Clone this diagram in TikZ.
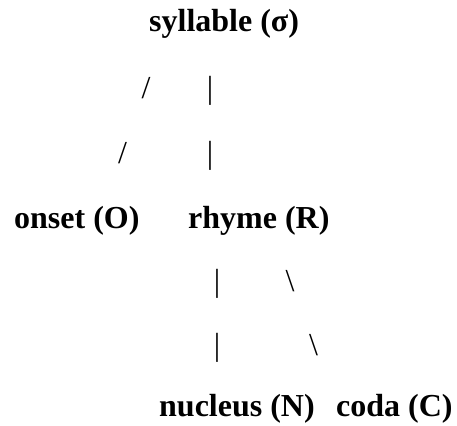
\documentclass[tikz,border=0pt]{standalone}
\usepackage{fontspec}
\setmainfont{Liberation Serif}
\begin{document}
\begin{tikzpicture}[x=1pt,y=-1pt,
  lbl/.style={anchor=base west,inner sep=0pt,font=\fontsize{32}{38}\selectfont\bfseries},
  glyph/.style={anchor=base,inner sep=0pt,font=\fontsize{32}{38}\selectfont}]
\useasboundingbox (0,0) rectangle (457,425);
\node[lbl] (syl) at (149,32) {syllable (σ)};
\node[glyph] (s1a) at (146,99) {/};
\node[glyph] (s1b) at (210,99) {|};
\node[glyph] (s2a) at (122.5,163) {/};
\node[glyph] (s2b) at (210,163) {|};
\node[lbl] (ons) at (14,228) {onset (O)};
\node[lbl] (rhy) at (188,228) {rhyme (R)};
\node[glyph] (r1a) at (217,291) {|};
\node[glyph] (r1b) at (290,291) {\textbackslash};
\node[glyph] (r2a) at (217,355) {|};
\node[glyph] (r2b) at (313.5,355) {\textbackslash};
\node[lbl] (nuc) at (159,416.5) {nucleus (N)};
\node[lbl] (cod) at (336,416.5) {coda (C)};
\end{tikzpicture}
\end{document}
